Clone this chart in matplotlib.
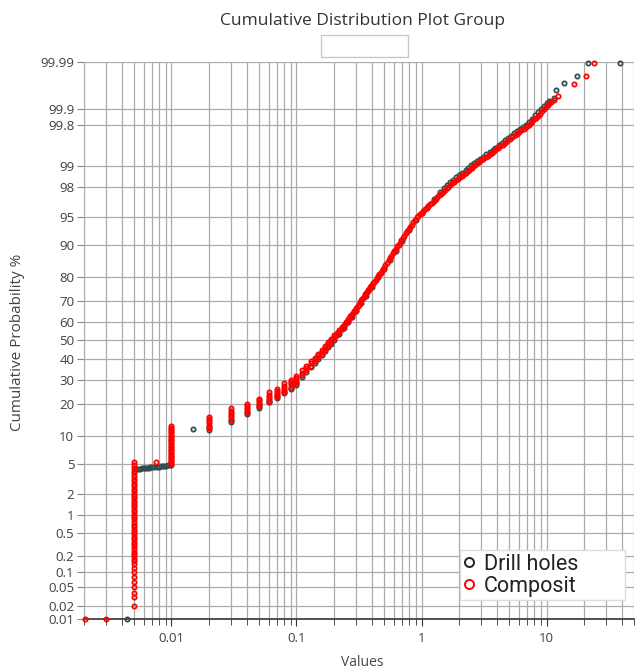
import numpy as np
import matplotlib
matplotlib.use("Agg")
import matplotlib.pyplot as plt
from matplotlib.lines import Line2D
from matplotlib.patches import Rectangle
from matplotlib.ticker import FixedLocator, LogLocator, NullFormatter, NullLocator
from statistics import NormalDist

# ---- data (value, cumulative %) ----
# Composit (red)
comp_low_vals = [0.00205, 0.003, 0.0075]
comp_low_pct = [0.01, 0.01, 5.2]

comp_stack_vals = [0.005, 0.01, 0.02, 0.03, 0.04, 0.05, 0.06, 0.07, 0.08, 0.09, 0.1,
                   0.11, 0.12, 0.13, 0.14, 0.15, 0.16, 0.17, 0.18, 0.19, 0.2,
                   0.21, 0.22, 0.23, 0.24, 0.25, 0.26, 0.27, 0.28, 0.29, 0.3]
comp_stack_pct = [
    [0.02, 0.03, 0.038, 0.05, 0.063, 0.08, 0.1, 0.12, 0.14, 0.16, 0.18, 0.2, 0.22, 0.24,
     0.27, 0.3, 0.33, 0.36, 0.4, 0.44, 0.48, 0.53, 0.58, 0.64, 0.7, 0.77, 0.85, 0.93, 1.0,
     1.1, 1.2, 1.3, 1.4, 1.5, 1.62, 1.75, 1.9, 2.05, 2.2, 2.4, 2.6, 2.8, 3.0, 3.25, 3.5,
     3.8, 4.1, 4.45, 4.85, 5.3],
    [5.0, 5.2, 5.4, 5.6, 5.8, 6.0, 6.2, 6.45, 6.7, 6.95, 7.2, 7.45, 7.7, 8.0, 8.3, 8.6,
     8.9, 9.2, 9.5, 9.85, 10.2, 10.6, 11.0, 11.4, 11.8, 12.2, 12.6],
    [12.2, 12.8, 13.4, 14.0, 14.7, 15.5],
    [14.5, 15.2, 15.9, 16.6, 17.4, 18.2],
    [16.8, 17.5, 18.3, 19.1, 20.0],
    [19.2, 19.9, 20.6, 21.3, 21.9],
    [20.7, 21.6, 22.5, 23.4, 24.4],
    [22.7, 23.5, 24.3, 25.1, 26.0],
    [24.4, 25.3, 26.3, 27.3, 28.3],
    [26.5, 27.4, 28.3, 29.2, 30.1],
    [28.3, 29.2, 30.1, 31.0, 32.0],
    [32.3, 33.4, 34.5],
    [34.6, 35.7, 36.8],
    [36.9, 38.0, 39.0],
    [39.1, 40.1, 41.0],
    [41.1, 42.1, 43.0],
    [43.1, 44.0, 45.0],
    [45.1, 46.0, 47.0],
    [47.1, 48.0, 49.0],
    [49.1, 50.0, 51.0],
    [51.1, 52.0, 53.0],
    [53.1, 54.0],
    [54.6, 55.5],
    [56.1, 57.0],
    [57.6, 58.4],
    [59.0, 59.8],
    [60.4, 61.2],
    [61.8, 62.6],
    [63.2, 64.0],
    [64.6, 65.4],
    [66.0, 66.8],
]

comp_curve_vals = [0.31, 0.315, 0.32, 0.325, 0.33, 0.335, 0.34, 0.345, 0.35, 0.355, 0.36,
                   0.365, 0.37, 0.375, 0.38, 0.385, 0.39, 0.395, 0.40, 0.41, 0.42, 0.43,
                   0.44, 0.45, 0.46, 0.47, 0.48, 0.49, 0.50, 0.515, 0.53, 0.545, 0.56,
                   0.575, 0.59, 0.605, 0.62, 0.64, 0.655, 0.67, 0.69, 0.71, 0.73, 0.75,
                   0.77, 0.79, 0.81, 0.835, 0.86, 0.885, 0.912, 0.94, 0.97, 1.0, 1.03,
                   1.065, 1.10, 1.135, 1.17, 1.21, 1.25, 1.295, 1.34, 1.385, 1.43, 1.48,
                   1.53, 1.585, 1.64, 1.70, 1.76, 1.825, 1.89, 1.96, 2.03, 2.105, 2.18,
                   2.26, 2.34, 2.40, 2.47, 2.53, 2.6, 2.7, 2.8, 2.9, 3.0, 3.12, 3.25, 3.37,
                   3.5, 3.65, 3.8, 3.95, 4.1, 4.27, 4.45, 4.65, 4.85, 5.07, 5.3, 5.55, 5.8,
                   6.05, 6.3, 6.55, 6.8, 7.0, 7.2, 7.45, 7.7, 7.95, 8.2, 8.5, 8.8, 9.15,
                   9.5, 9.85, 10.2, 10.5, 10.8]
comp_curve_pct = [67.8, 68.4, 69.0, 69.7, 70.4, 71.0, 71.6, 72.1, 72.6, 73.1, 73.5,
                  74.0, 74.4, 74.9, 75.3, 75.8, 76.2, 76.6, 77.0, 77.7, 78.4, 79.1,
                  79.7, 80.4, 81.1, 81.7, 82.3, 82.95, 83.5, 84.35, 85.1, 85.85, 86.5,
                  87.18, 87.8, 88.35, 88.9, 89.55, 90.0, 90.45, 91.0, 91.48, 91.9, 92.38,
                  92.8, 93.16, 93.5, 93.92, 94.3, 94.65, 95.0, 95.21, 95.43, 95.63, 95.82,
                  96.02, 96.21, 96.39, 96.55, 96.73, 96.89, 97.06, 97.21, 97.36, 97.49,
                  97.63, 97.76, 97.89, 98.0, 98.1, 98.2, 98.29, 98.37, 98.46, 98.54,
                  98.61, 98.69, 98.755, 98.82, 98.864, 98.92, 98.955, 99.0, 99.053, 99.10,
                  99.146, 99.19, 99.235, 99.28, 99.319, 99.356, 99.397, 99.433, 99.466,
                  99.496, 99.527, 99.556, 99.588, 99.614, 99.642, 99.666, 99.691, 99.712,
                  99.732, 99.749, 99.766, 99.779, 99.791, 99.80, 99.816, 99.830, 99.843,
                  99.854, 99.867, 99.878, 99.890, 99.90, 99.909, 99.917, 99.923, 99.928]

comp_tail_vals = [11.4, 12.3, 16.5, 20.5, 23.8]
comp_tail_pct = [99.934, 99.945, 99.970, 99.979, 99.9894]

# Drill holes (dark)
drill_low_vals = [0.0044, 0.015]
drill_low_pct = [0.01, 11.9]

drill_band_vals = [0.0052, 0.0054, 0.0056, 0.0058, 0.006, 0.0062, 0.0064, 0.0066, 0.0068,
                   0.007, 0.0073, 0.0076, 0.0079, 0.0082, 0.0085, 0.0088, 0.0091, 0.0094,
                   0.0097, 0.01]
drill_band_pct = [4.30, 4.33, 4.36, 4.38, 4.41, 4.43, 4.46, 4.48, 4.51, 4.53, 4.56, 4.59,
                  4.62, 4.65, 4.68, 4.71, 4.74, 4.77, 4.80, 4.85]

drill_stack_vals = [0.02, 0.03, 0.04, 0.05, 0.06, 0.07, 0.08, 0.09, 0.1]
drill_stack_pct = [[11.7, 12.3], [13.9, 14.5], [16.4, 17.0], [18.5, 19.1], [20.4, 21.0],
                   [22.3, 22.9], [24.0, 24.6], [25.9, 26.5], [27.8, 28.4]]

drill_curve_vals = [0.11, 0.12, 0.13, 0.14, 0.15, 0.16, 0.17, 0.18, 0.19, 0.2, 0.22, 0.24,
                    0.26, 0.28, 0.3, 0.33, 0.36, 0.4, 0.45, 0.5, 0.56, 0.62, 0.7, 0.8, 0.9,
                    1.0, 1.12, 1.25, 1.4, 1.5, 1.6, 1.7, 1.8, 1.9, 2.0, 2.1, 2.25, 2.37,
                    2.5, 2.65, 2.8, 2.95, 3.1, 3.3, 3.5, 3.7, 3.9, 4.15, 4.4, 4.65, 4.9,
                    5.2, 5.5, 5.8, 6.1, 6.45, 6.8, 7.2, 7.6, 8.05, 8.5, 9.0, 9.5, 10.0,
                    10.5, 11.5]
drill_curve_pct = [31.5, 33.8, 36.0, 38.2, 40.3, 42.3, 44.3, 46.3, 48.3, 50.2, 53.6, 56.8,
                   59.7, 62.5, 65.2, 69.0, 72.4, 76.2, 80.0, 83.0, 85.8, 88.3, 90.7, 93.0,
                   94.6, 95.6, 96.4, 97.05, 97.6, 97.9, 98.1, 98.26, 98.4, 98.53, 98.63,
                   98.72, 98.86, 98.94, 99.03, 99.11, 99.18, 99.24, 99.29, 99.356, 99.41,
                   99.46, 99.50, 99.55, 99.59, 99.626, 99.655, 99.687, 99.715, 99.74,
                   99.76, 99.781, 99.80, 99.827, 99.848, 99.868, 99.885, 99.90, 99.914,
                   99.925, 99.932, 99.94]

drill_tail_vals = [12.0, 13.9, 17.4, 21.3, 38.4]
drill_tail_pct = [99.958, 99.9705, 99.979, 99.9894, 99.9894]

y_ticks = [0.01, 0.02, 0.05, 0.1, 0.2, 0.5, 1, 2, 5, 10, 20, 30, 40, 50, 60, 70, 80, 90,
           95, 98, 99, 99.8, 99.9, 99.99]
y_labels = ["0.01", "0.02", "0.05", "0.1", "0.2", "0.5", "1", "2", "5", "10", "20", "30",
            "40", "50", "60", "70", "80", "90", "95", "98", "99", "99.8", "99.9", "99.99"]
x_ticks = [0.01, 0.1, 1, 10]
x_labels = ["0.01", "0.1", "1", "10"]


def flatten(vals, pcts):
    xs, ys = [], []
    for v, ps in zip(vals, pcts):
        xs += [v] * len(ps)
        ys += ps
    return xs, ys


sx, sy = flatten(comp_stack_vals, comp_stack_pct)
comp_x = comp_low_vals + sx + comp_curve_vals + comp_tail_vals
comp_y = comp_low_pct + sy + comp_curve_pct + comp_tail_pct

dx, dy = flatten(drill_stack_vals, drill_stack_pct)
drill_x = drill_low_vals + drill_band_vals + dx + drill_curve_vals + drill_tail_vals
drill_y = drill_low_pct + drill_band_pct + dy + drill_curve_pct + drill_tail_pct

# ---- normal probability scale ----
nd = NormalDist()
_ppf = np.vectorize(nd.inv_cdf, otypes=[float])
_cdf = np.vectorize(nd.cdf, otypes=[float])


def to_z(p):
    p = np.clip(np.asarray(p, dtype=float) / 100.0, 1e-12, 1 - 1e-12)
    return _ppf(p)


def from_z(z):
    return _cdf(np.asarray(z, dtype=float)) * 100.0


plt.rcParams["font.family"] = ["Open Sans", "DejaVu Sans"]

fig = plt.figure(figsize=(6.36, 6.71), dpi=100)
ax = fig.add_axes([84 / 636, 1 - 619 / 671, 550 / 636, 557 / 671])

ax.set_xscale("log")
ax.set_yscale("function", functions=(to_z, from_z))
ax.set_xlim(0.002, 50)
ax.set_ylim(0.01, 99.99)

ax.xaxis.set_major_locator(FixedLocator(x_ticks))
ax.set_xticklabels(x_labels)
ax.xaxis.set_minor_locator(LogLocator(base=10, subs=np.arange(2, 10), numticks=30))
ax.xaxis.set_minor_formatter(NullFormatter())
ax.set_yticks(y_ticks)
ax.set_yticklabels(y_labels)
ax.yaxis.set_minor_locator(NullLocator())

ax.set_axisbelow(True)
ax.grid(True, which="both", axis="x", color="#ababab", lw=0.9)
ax.grid(True, which="major", axis="y", color="#ababab", lw=0.9)

for s in ["top", "right"]:
    ax.spines[s].set_visible(False)
ax.spines["left"].set_color("#ababab")
ax.spines["bottom"].set_color("#333333")
ax.spines["bottom"].set_linewidth(1.2)

ax.tick_params(axis="y", length=5, color="#888888", labelcolor="#404040", labelsize=9.5, pad=2)
ax.tick_params(axis="x", which="major", length=5, color="#333333", labelcolor="#404040",
               labelsize=9.5, pad=4)
ax.tick_params(axis="x", which="minor", length=4, color="#333333")

ax.plot(drill_x, drill_y, "o", ls="none", mfc="none", mec="#2f4f4f", ms=3.1, mew=1.25,
        clip_on=False, zorder=3)
ax.plot(comp_x, comp_y, "o", ls="none", mfc="none", mec="#ff0000", ms=3.1, mew=1.25,
        clip_on=False, zorder=4)

handles = [
    Line2D([], [], marker="o", ls="none", mfc="none", mec="#222222", ms=6.5, mew=1.4),
    Line2D([], [], marker="o", ls="none", mfc="none", mec="#ff0000", ms=6.5, mew=1.4),
]
leg = ax.legend(handles, ["Drill holes", "Composit"], loc="lower left",
                bbox_to_anchor=((460 - 84) / 550, (619 - 600) / 557, 165 / 550, 53 / 557),
                mode="expand", frameon=True, fancybox=False,
                framealpha=1, edgecolor="#dddddd", borderpad=0.15, handlelength=0.5,
                handletextpad=0.45, labelspacing=0.05, borderaxespad=0,
                prop={"family": "Roboto", "size": 15.5})
leg.set_zorder(5)
for t in leg.get_texts():
    t.set_color("#222222")

fig.text(363 / 636, 1 - 21 / 671, "Cumulative Distribution Plot Group", ha="center",
         va="center", fontsize=12.5, color="#333333")
fig.add_artist(Rectangle((321 / 636, 1 - 57 / 671), 87 / 636, 22 / 671,
                         transform=fig.transFigure, fill=False, ec="#c8c8c8", lw=1))
fig.text(18 / 636, 1 - 342 / 671, "Cumulative Probability %", rotation=90, ha="center",
         va="center", fontsize=11, color="#444444")
fig.text(362 / 636, 1 - 662 / 671, "Values", ha="center", va="center", fontsize=10,
         color="#444444")

fig.savefig("out.png", dpi=100)
